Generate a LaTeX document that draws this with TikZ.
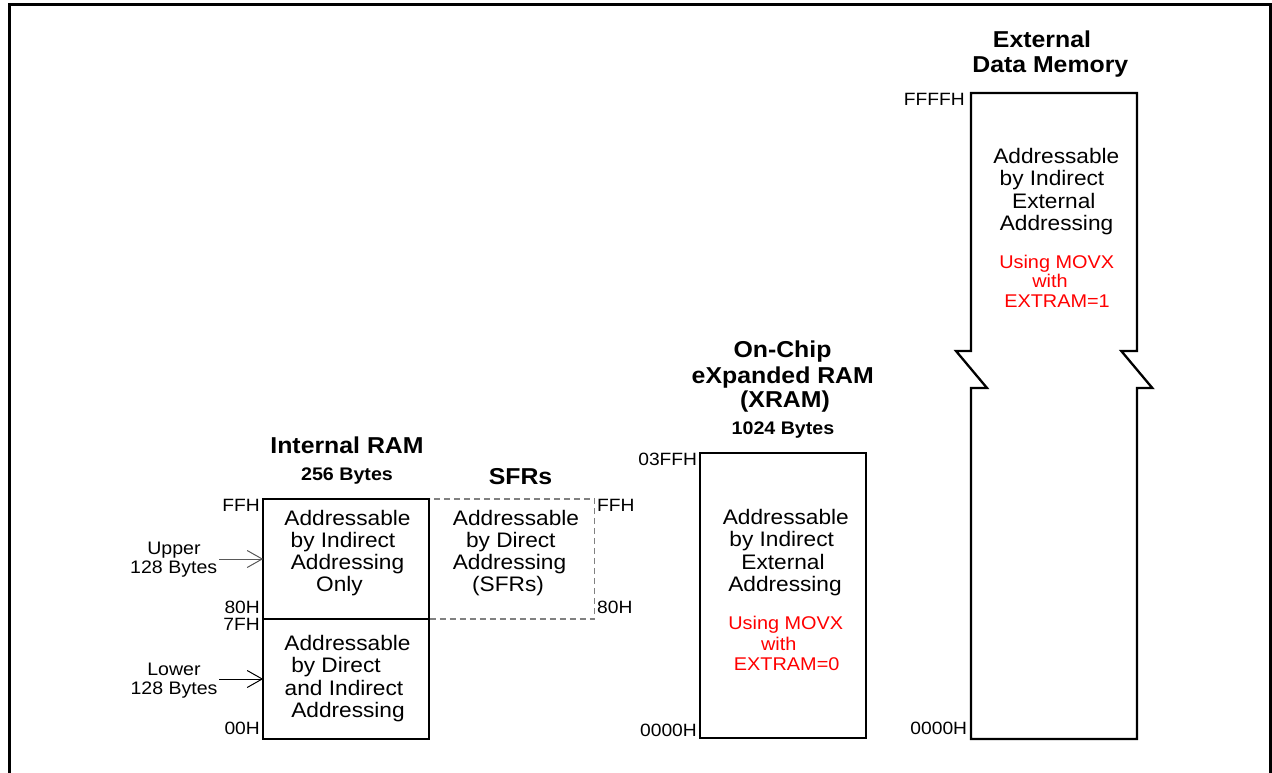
\documentclass[tikz,border=0pt]{standalone}
\usepackage{fontspec}
\setmainfont{Liberation Sans}[FakeStretch=1.08]
\usetikzlibrary{arrows.meta}
\begin{document}
\begin{tikzpicture}[x=1pt,y=-1pt,
  txt/.style={font=\fontsize{21}{22}\selectfont, anchor=base, inner sep=0pt},
  rtxt/.style={font=\fontsize{18.4}{20}\selectfont, text=red, anchor=base, inner sep=0pt},
  lbl/.style={font=\fontsize{17.8}{18}\selectfont, inner sep=0pt},
  lblr/.style={lbl, anchor=base east},
  lbll/.style={lbl, anchor=base west},
  ttl/.style={font=\bfseries\fontsize{23}{25}\selectfont, anchor=base, inner sep=0pt},
  subttl/.style={font=\bfseries\fontsize{18.2}{20}\selectfont, anchor=base, inner sep=0pt},
  side/.style={font=\fontsize{18.1}{19}\selectfont, anchor=base, inner sep=0pt},
  membox/.style={draw, line width=2.3pt, minimum width=166pt, inner sep=0pt, outer sep=0pt},
  sfrbox/.style={draw=black!50, line width=1.1pt, dash pattern=on 6pt off 4pt, minimum width=165pt, minimum height=120pt, inner sep=0pt, outer sep=0pt},
  ptr/.style={line width=1pt, -{Straight Barb[length=15pt,width=17pt,line width=1pt]}},
  frame/.style={line width=3pt}
]
\useasboundingbox (0,0) rectangle (1272,773);
% outer frame
\draw[frame] (9.5,773) -- (9.5,4.3) -- (1270.7,4.3) -- (1270.7,773);

% ---------------- Internal RAM ----------------
\node[ttl] (iramt) at (347,453) {Internal RAM};
\node[subttl] (irams) at (347,480) {256 Bytes};
\node[ttl] (sfrt) at (520.5,484) {SFRs};

\node[sfrbox] (sfr) at (512,559) {};
\node[membox, minimum height=120pt] (upper) at (346.2,559) {};
\node[membox, minimum height=120pt] (lower) at (346.2,679) {};

\node[txt] (u1) at (347.5,525) {Addressable};
\node[txt] (u2) at (343,547) {by Indirect};
\node[txt] (u3) at (347.5,569.5) {Addressing};
\node[txt] (u4) at (339.5,591.5) {Only};

\node[txt] (l1) at (347.5,650) {Addressable};
\node[txt] (l2) at (336,672.5) {by Direct};
\node[txt] (l3) at (344,695) {and Indirect};
\node[txt] (l4) at (348,717.5) {Addressing};

\node[txt] (s1) at (516,525) {Addressable};
\node[txt] (s2) at (510.8,547) {by Direct};
\node[txt] (s3) at (509.5,569.5) {Addressing};
\node[txt] (s4) at (508,591.5) {(SFRs)};

\node[lblr] (aff) at (260,511) {FFH};
\node[lblr] (a80) at (260,613.3) {80H};
\node[lblr] (a7f) at (260,630.7) {7FH};
\node[lblr] (a00) at (260,734.3) {00H};
\node[lbll] (sff) at (597,511) {FFH};
\node[lbll] (s80) at (597,613) {80H};

\node[side] (up1) at (174,554) {Upper};
\node[side] (up2) at (173.7,573) {128 Bytes};
\node[side] (lo1) at (174,675) {Lower};
\node[side] (lo2) at (174,694) {128 Bytes};
\coordinate (ua) at (219,559);
\coordinate (la) at (219,679);
\draw[ptr, draw=black!65] (ua) -- (upper.west);
\draw[ptr] (la) -- (lower.west);

% ---------------- XRAM ----------------
\node[ttl] (xt1) at (782.5,357.7) {On-Chip};
\node[ttl] (xt2) at (782.8,383.3) {eXpanded RAM};
\node[ttl] (xt3) at (785,407.5) {(XRAM)};
\node[subttl] (xt4) at (783,434) {1024 Bytes};
\node[membox, minimum height=285pt] (xram) at (783,595.5) {};
\node[txt] (x1) at (785.8,524) {Addressable};
\node[txt] (x2) at (781.7,546.5) {by Indirect};
\node[txt] (x3) at (783,569) {External};
\node[txt] (x4) at (785,591) {Addressing};
\node[rtxt] (x5) at (785.8,629.3) {Using MOVX};
\node[rtxt] (x6) at (778.8,650) {with};
\node[rtxt] (x7) at (786.7,670) {EXTRAM=0};
\node[lblr] (xff) at (697.3,465.7) {03FFH};
\node[lblr] (x00) at (697,736) {0000H};

% ---------------- External Data Memory ----------------
\node[ttl] (et1) at (1042,47.7) {External};
\node[ttl] (et2) at (1050.3,72.7) {Data Memory};
\draw[line width=2.3pt, miter limit=10]
  (971,739) -- (971,388) -- (987,388) -- (956,351) -- (971,351) -- (971,93)
  -- (1137,93) -- (1137,351) -- (1121.3,351) -- (1152.3,388) -- (1137,388)
  -- (1137,739) -- cycle;
\node[txt] (e1) at (1056.3,163.3) {Addressable};
\node[txt] (e2) at (1052,185.7) {by Indirect};
\node[txt] (e3) at (1053.8,208) {External};
\node[txt] (e4) at (1056.5,230) {Addressing};
\node[rtxt] (e5) at (1056.7,268.3) {Using MOVX};
\node[rtxt] (e6) at (1050,287.3) {with};
\node[rtxt] (e7) at (1057,307.3) {EXTRAM=1};
\node[lblr] (eff) at (965,105.7) {FFFFH};
\node[lblr] (e00) at (967.3,734.3) {0000H};
\end{tikzpicture}
\end{document}
